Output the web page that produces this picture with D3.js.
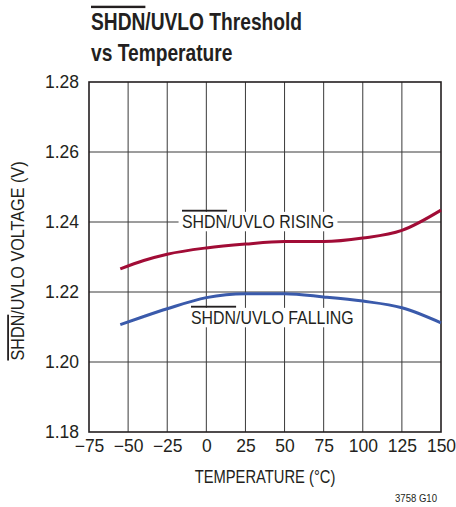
<!DOCTYPE html>
<html lang="en">
<head>
<meta charset="UTF-8">
<title>SHDN/UVLO Threshold vs Temperature</title>
<script src="https://cdn.jsdelivr.net/npm/d3@7"></script>
<style>
	body { margin: 0; background: #fff; }
	svg text { font-family: "Liberation Sans", Arial, sans-serif; fill: #231f20; }
	.title { font-size: 24px; font-weight: bold; }
	.tick text { font-size: 17.5px; }
	.axis-label { font-size: 18px; }
	.curve-label { font-size: 18.5px; }
	.grid line { stroke: #3a3a3a; stroke-width: 1px; }
</style>
</head>
<body>
<script>
	// data
	var temps   = [-55, -40, -25, 0, 25, 50, 75, 100, 125, 150];
	var rising  = [1.2266, 1.2290, 1.2308, 1.2326, 1.2337, 1.2344, 1.2344, 1.2354, 1.2376, 1.2434];
	var falling = [1.2107, 1.2130, 1.2152, 1.2184, 1.2195, 1.2195, 1.2186, 1.2174, 1.2155, 1.2112];
	var xTicks  = [-75, -50, -25, 0, 25, 50, 75, 100, 125, 150];
	var yTicks  = [1.18, 1.20, 1.22, 1.24, 1.26, 1.28];

	var W = 456, H = 507;
	var margin = {top: 82, left: 89, right: 15, bottom: 75};
	var width = 441 - margin.left;
	var height = 432 - margin.top;

	var svg = d3.select('body').append('svg')
		.attr('width', W)
		.attr('height', H);

	var g = svg.append('g')
		.attr('transform', 'translate(' + margin.left + ',' + margin.top + ')');

	var x = d3.scaleLinear().domain([-75, 150]).range([0, width]);
	var y = d3.scaleLinear().domain([1.18, 1.28]).range([height, 0]);

	// the reference uses a condensed face, so squeeze text horizontally
	function condensed(parent, px, py, sx, cls, rotate) {
		var holder = parent.append('g')
			.attr('transform', 'translate(' + px + ',' + py + ')' + (rotate ? ' rotate(' + rotate + ')' : '') + ' scale(' + sx + ',1)');
		var t = holder.append('text').attr('class', cls);
		return t;
	}
	function withBar(t, rest) {
		t.append('tspan').style('text-decoration', 'overline').text('SHDN');
		t.append('tspan').text(rest);
		return t;
	}

	// grid
	var grid = g.append('g').attr('class', 'grid');
	grid.selectAll('.vx').data(xTicks.slice(1, -1)).enter().append('line')
		.attr('x1', function (d) { return x(d); })
		.attr('x2', function (d) { return x(d); })
		.attr('y1', 0).attr('y2', height);
	grid.selectAll('.hy').data(yTicks.slice(1, -1)).enter().append('line')
		.attr('y1', function (d) { return y(d); })
		.attr('y2', function (d) { return y(d); })
		.attr('x1', 0).attr('x2', width);

	// curve labels sit on white boxes that hide the grid behind them
	function curveLabel(px, py, rest) {
		var t = withBar(condensed(g, px, py, 0.86, 'curve-label'), rest);
		var bb = t.node().getBBox();
		d3.select(t.node().parentNode).insert('rect', 'text')
			.attr('x', bb.x - 4).attr('y', bb.y + 1)
			.attr('width', bb.width + 8).attr('height', bb.height - 2)
			.attr('fill', '#fff');
	}
	curveLabel(182 - margin.left, 228 - margin.top, '/UVLO RISING');
	curveLabel(191 - margin.left, 324 - margin.top, '/UVLO FALLING');

	g.append('rect')
		.attr('width', width).attr('height', height)
		.attr('fill', 'none').attr('stroke', '#231f20').attr('stroke-width', 1.6);

	// axes (labels only)
	var xAxis = g.append('g')
		.attr('transform', 'translate(0,' + height + ')')
		.call(d3.axisBottom(x).tickValues(xTicks).tickSize(0).tickPadding(8)
			.tickFormat(function (d) { return d < 0 ? '\u2212' + Math.abs(d) : d; }));
	xAxis.select('.domain').remove();

	var yAxis = g.append('g')
		.call(d3.axisLeft(y).tickValues(yTicks).tickSize(0).tickPadding(10).tickFormat(d3.format('.2f')));
	yAxis.select('.domain').remove();

	g.selectAll('.tick text').style('fill', '#231f20');

	// curves
	var line = d3.line()
		.x(function (d) { return x(d[0]); })
		.y(function (d) { return y(d[1]); })
		.curve(d3.curveMonotoneX);

	g.append('path')
		.datum(d3.zip(temps, rising))
		.attr('d', line)
		.attr('fill', 'none').attr('stroke', '#a10c36').attr('stroke-width', 3);

	g.append('path')
		.datum(d3.zip(temps, falling))
		.attr('d', line)
		.attr('fill', 'none').attr('stroke', '#3a5aab').attr('stroke-width', 3);

	// title
	withBar(condensed(svg, 91, 30, 0.8, 'title'), '/UVLO Threshold');
	condensed(svg, 91, 61, 0.8, 'title').text('vs Temperature');

	// axis titles
	condensed(svg, margin.left + width / 2, 483, 0.82, 'axis-label')
		.attr('text-anchor', 'middle')
		.text('TEMPERATURE (\u00B0C)');

	withBar(condensed(svg, 24, 261, 0.9, 'axis-label', -90)
		.attr('text-anchor', 'middle'), '/UVLO VOLTAGE (V)');

	condensed(svg, 437, 502, 0.87, '')
		.attr('text-anchor', 'end')
		.style('font-size', '11px')
		.text('3758 G10');
</script>
</body>
</html>
